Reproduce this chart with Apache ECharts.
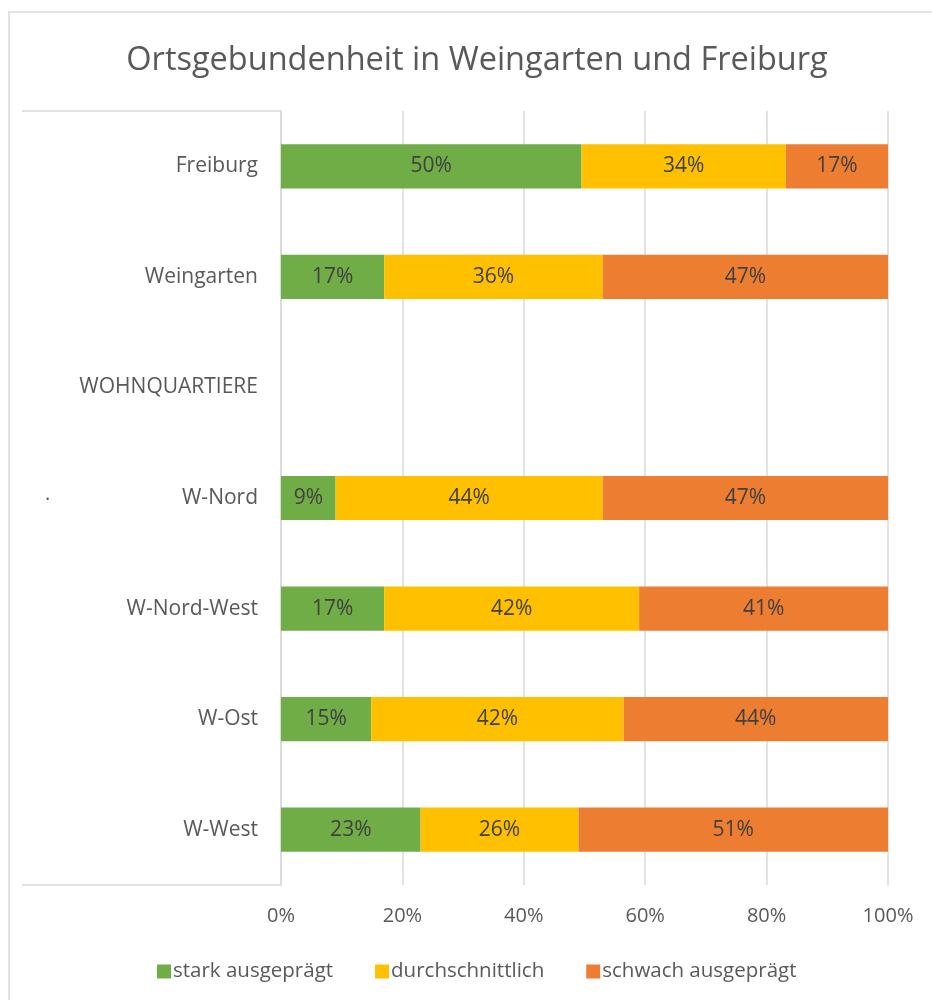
<!DOCTYPE html>
<html>
<head>
<meta charset="utf-8">
<title>Ortsgebundenheit</title>
<script src="https://cdn.jsdelivr.net/npm/echarts@6/dist/echarts.min.js"></script>
<style>
  html, body { margin: 0; padding: 0; background: #fff; }
  #chart { width: 932px; height: 1000px; }
</style>
</head>
<body>
<div id="chart"></div>
<script>
// Kategorien (von oben nach unten)
const categories = ['Freiburg', 'Weingarten', 'WOHNQUARTIERE', 'W-Nord', 'W-Nord-West', 'W-Ost', 'W-West']

// Werte in Prozent, wie im Diagramm beschriftet (leere Zeile = Zwischenüberschrift)
const stark = [50, 17, null, 9, 17, 15, 23]
const durchschnittlich = [34, 36, null, 44, 42, 42, 26]
const schwach = [17, 47, null, 47, 41, 44, 51]

const seriesNames = ['stark ausgeprägt', 'durchschnittlich', 'schwach ausgeprägt']
const xTicks = ['0%', '20%', '40%', '60%', '80%', '100%']

const colors = ['#70AD47', '#FFC000', '#ED7D31']
const font = "'Open Sans', 'Liberation Sans', sans-serif"

// 100%-Stapel wie in Excel: jede Zeile auf ihre Summe normieren
const rows = [stark, durchschnittlich, schwach]
const totals = categories.map((c, i) => rows.reduce((s, r) => s + (r[i] || 0), 0))
const share = (arr) => arr.map((v, i) => v == null ? null : { value: v / totals[i] * 100, raw: v })

const series = rows.map((arr, k) => ({
  name: seriesNames[k],
  type: 'bar',
  stack: 'total',
  barWidth: '40%',
  itemStyle: { color: colors[k] },
  label: {
    show: true,
    position: 'inside',
    color: '#404040',
    fontFamily: font,
    fontSize: 21,
    formatter: p => p.data && p.data.raw != null ? p.data.raw + '%' : ''
  },
  emphasis: { disabled: true },
  data: share(arr)
}))

const chart = echarts.init(document.getElementById('chart'), null, { renderer: 'canvas' })

chart.setOption({
  animation: false,
  color: colors,
  title: {
    text: 'Ortsgebundenheit in Weingarten und Freiburg',
    left: 472,
    textAlign: 'center',
    top: 39,
    textStyle: { color: '#595959', fontFamily: font, fontSize: 32.5, fontWeight: 'normal' }
  },
  legend: {
    data: seriesNames,
    left: 152,
    top: 956,
    itemWidth: 14,
    itemHeight: 14,
    itemGap: 42,
    icon: 'rect',
    textStyle: { color: '#595959', fontFamily: font, fontSize: 20.5, padding: [0, 0, 0, -3] }
  },
  grid: { left: 281, right: 44, top: 111, bottom: 115, containLabel: false },
  xAxis: {
    type: 'value',
    min: 0,
    max: 100,
    interval: 20,
    axisLine: { show: false },
    axisTick: { show: false },
    splitLine: { lineStyle: { color: '#d9d9d9', width: 1.5 } },
    axisLabel: {
      color: '#595959',
      fontFamily: font,
      fontSize: 20,
      margin: 21,
      formatter: (v) => xTicks[v / 20]
    }
  },
  yAxis: {
    type: 'category',
    inverse: true,
    data: categories,
    axisLine: { show: false },
    axisTick: { show: false },
    axisLabel: { color: '#595959', fontFamily: font, fontSize: 21, margin: 23 }
  },
  graphic: [
    // äußerer Rahmen
    { type: 'rect', shape: { x: 9, y: 12, width: 1000, height: 1000 }, style: { fill: 'none', stroke: '#d9d9d9', lineWidth: 1.5 }, silent: true },
    // Kasten um die Kategorien
    { type: 'polyline', shape: { points: [[22, 111], [281, 111], [281, 885], [22, 885]] }, style: { fill: 'none', stroke: '#d9d9d9', lineWidth: 1.5 }, silent: true },
    { type: 'text', left: 45, top: 484, style: { text: '.', fill: '#595959', font: '20px ' + font }, silent: true }
  ],
  series: series
})
</script>
</body>
</html>
